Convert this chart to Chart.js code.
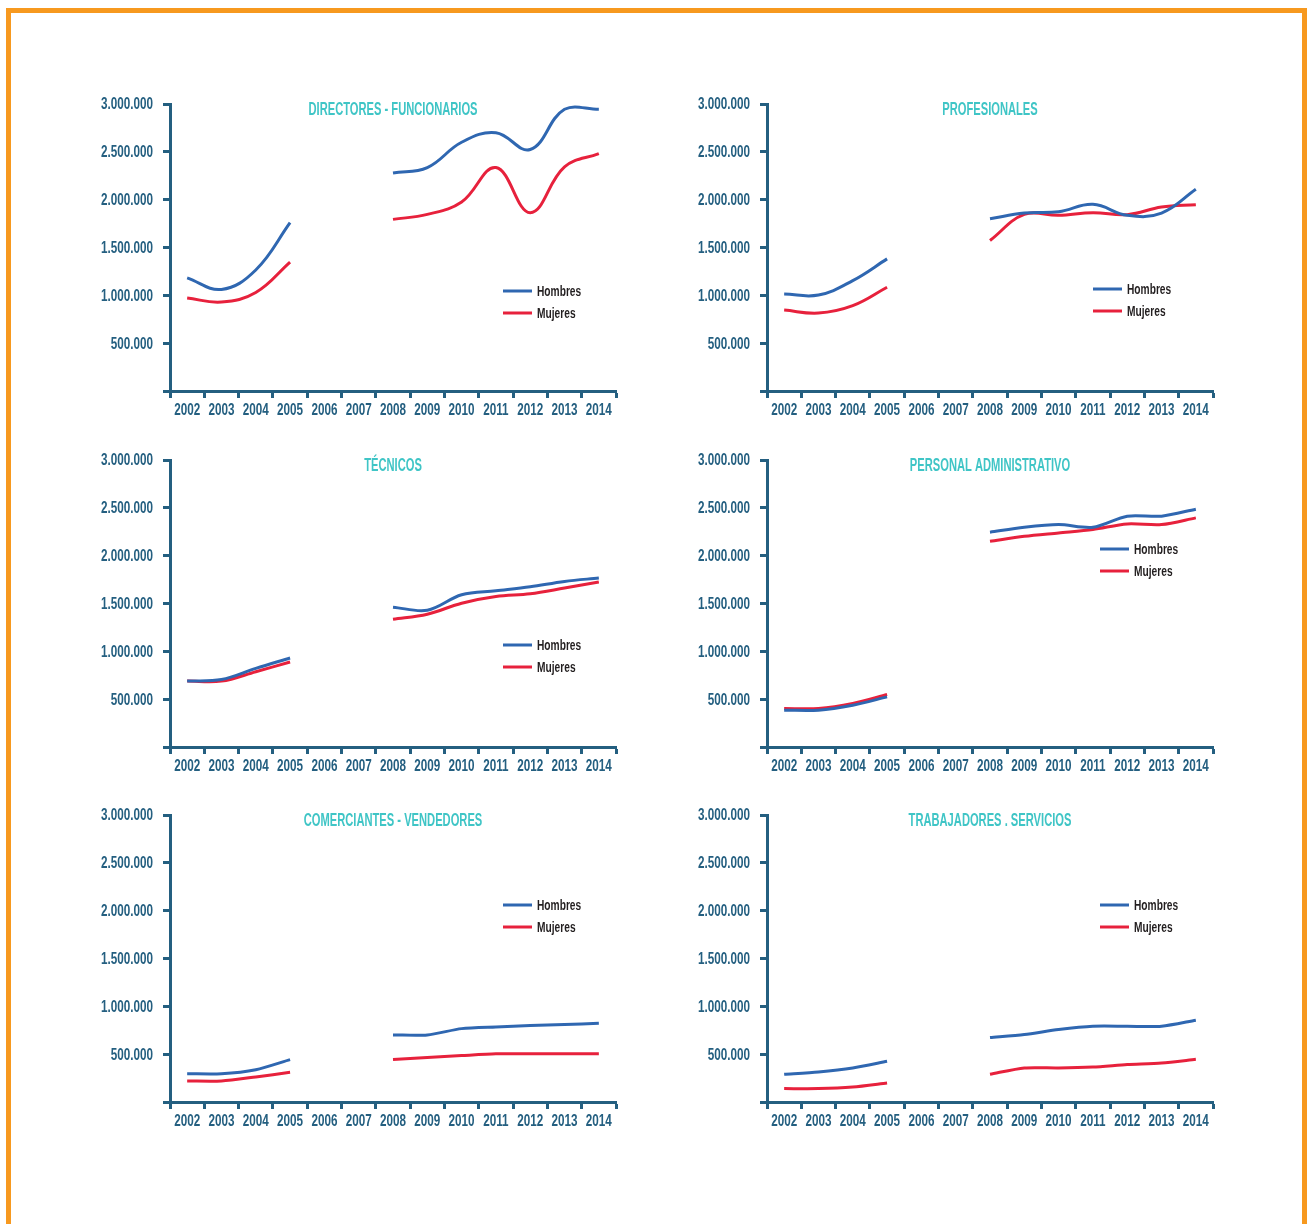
<!DOCTYPE html>
<html>
<head>
<meta charset="utf-8">
<script src="https://cdn.jsdelivr.net/npm/chart.js@4/dist/chart.umd.min.js"></script>
<style>
  html, body { margin: 0; padding: 0; background: #fff; overflow: hidden; width: 1307px; height: 1224px; }
  .frame { position: absolute; left: 6px; top: 8px; width: 1291px; height: 1400px; border: 5px solid #f7991f; }
  .box { position: absolute; width: 550px; height: 350px; }
</style>
</head>
<body>
<div class="frame"></div>
<div class="box" style="left:80px;top:90px"><canvas id="c1" width="550" height="350"></canvas></div>
<div class="box" style="left:677px;top:90px"><canvas id="c2" width="550" height="350"></canvas></div>
<div class="box" style="left:80px;top:446px"><canvas id="c3" width="550" height="350"></canvas></div>
<div class="box" style="left:677px;top:446px"><canvas id="c4" width="550" height="350"></canvas></div>
<div class="box" style="left:80px;top:801px"><canvas id="c5" width="550" height="350"></canvas></div>
<div class="box" style="left:677px;top:801px"><canvas id="c6" width="550" height="350"></canvas></div>
<script>
// years on the x axis (2006 and 2007 have no data)
const years = ['2002', '2003', '2004', '2005', '2006', '2007', '2008', '2009', '2010', '2011', '2012', '2013', '2014'];

const directoresHombres = [1182000, 1062000, 1265000, 1760000, null, null, 2279000, 2335000, 2600000, 2700000, 2524000, 2945000, 2944000];
const directoresMujeres = [972000, 930000, 1030000, 1348000, null, null, 1794000, 1846000, 1975000, 2336000, 1864000, 2343000, 2482000];

const profesionalesHombres = [1014000, 1003000, 1154000, 1381000, null, null, 1801000, 1860000, 1874000, 1951000, 1836000, 1860000, 2108000];
const profesionalesMujeres = [846000, 815000, 892000, 1084000, null, null, 1573000, 1846000, 1836000, 1864000, 1843000, 1923000, 1948000];

const tecnicosHombres = [689000, 705000, 822000, 930000, null, null, 1462000, 1430000, 1591000, 1633000, 1675000, 1731000, 1766000];
const tecnicosMujeres = [689000, 689000, 787000, 888000, null, null, 1336000, 1388000, 1503000, 1573000, 1601000, 1661000, 1724000];

const administrativoHombres = [385000, 385000, 437000, 524000, null, null, 2245000, 2297000, 2325000, 2297000, 2413000, 2413000, 2486000];
const administrativoMujeres = [402000, 402000, 455000, 549000, null, null, 2150000, 2203000, 2238000, 2273000, 2332000, 2325000, 2395000];

const comerciantesHombres = [296000, 296000, 338000, 443000, null, null, 701000, 701000, 767000, 785000, 799000, 809000, 822000];
const comerciantesMujeres = [220000, 220000, 262000, 310000, null, null, 443000, 464000, 485000, 504000, 504000, 504000, 504000];

const serviciosHombres = [290000, 314000, 356000, 426000, null, null, 673000, 705000, 757000, 792000, 792000, 792000, 855000];
const serviciosMujeres = [140000, 140000, 157000, 199000, null, null, 290000, 356000, 356000, 366000, 391000, 408000, 446000];

// no condensed font is installed, so text is squeezed horizontally
const FONT = "'Liberation Sans', 'Arial', sans-serif";
const AXIS = '#245f80';
const BLUE = '#2f67b1';
const RED = '#e7213c';

function squeezed(ctx, text, x, y, align, sx) {
  ctx.save();
  ctx.translate(x, y);
  ctx.scale(sx, 1);
  ctx.textAlign = align;
  ctx.fillText(text, 0, 0);
  ctx.restore();
}

// tick labels, title and legend
const overlay = {
  id: 'overlay',
  afterDraw(chart, args, opts) {
    const { ctx, chartArea } = chart;
    const xs = chart.scales.x;
    const ys = chart.scales.y;
    ctx.save();
    ctx.textBaseline = 'middle';

    ctx.fillStyle = AXIS;
    ctx.font = 'bold 16px ' + FONT;
    xs.ticks.forEach((t, i) => {
      squeezed(ctx, chart.data.labels[i], xs.getPixelForTick(i), chartArea.bottom + 20, 'center', 0.73);
    });
    ys.ticks.forEach((t) => {
      if (t.value === 0) return;
      squeezed(ctx, t.value.toLocaleString('de-DE'), chartArea.left - 17, ys.getPixelForValue(t.value) + 1, 'right', 0.73);
    });

    ctx.fillStyle = '#3fc5c6';
    ctx.font = 'bold 18px ' + FONT;
    squeezed(ctx, opts.title, (chartArea.left + chartArea.right) / 2, chartArea.top + 6, 'center', 0.62);

    ctx.font = 'bold 15px ' + FONT;
    chart.data.datasets.forEach((ds, i) => {
      const x = chartArea.left + opts.legendX;
      const y = chartArea.top + opts.legendY + i * 22;
      ctx.strokeStyle = ds.borderColor;
      ctx.lineWidth = 3;
      ctx.beginPath();
      ctx.moveTo(x, y);
      ctx.lineTo(x + 29, y);
      ctx.stroke();
      ctx.fillStyle = '#231f20';
      squeezed(ctx, ds.label, x + 34, y + 1, 'left', 0.68);
    });
    ctx.restore();
  }
};

function makeChart(id, title, hombres, mujeres, legendX, legendY, tension) {
  const ctx = document.getElementById(id).getContext('2d');
  return new Chart(ctx, {
    type: 'line',
    data: {
      labels: years,
      datasets: [
        { label: 'Hombres', data: hombres, borderColor: BLUE, borderWidth: 3, pointRadius: 0, tension: tension, spanGaps: false },
        { label: 'Mujeres', data: mujeres, borderColor: RED, borderWidth: 3, pointRadius: 0, tension: tension, spanGaps: false }
      ]
    },
    plugins: [overlay],
    options: {
      responsive: false,
      devicePixelRatio: 1,
      animation: false,
      layout: { padding: { top: 14, right: 14, left: 0, bottom: 0 } },
      plugins: {
        legend: { display: false },
        tooltip: { enabled: false },
        overlay: { title: title, legendX: legendX, legendY: legendY }
      },
      scales: {
        x: {
          offset: true,
          grid: { offset: true, drawOnChartArea: false, drawTicks: true, tickLength: 7, tickWidth: 3, tickColor: AXIS },
          border: { display: true, color: AXIS, width: 3 },
          ticks: { display: false, autoSkip: false },
          afterFit: (scale) => { scale.height = 49; }
        },
        y: {
          min: 0,
          max: 3000000,
          grid: { drawOnChartArea: false, drawTicks: true, tickLength: 7, tickWidth: 3, tickColor: AXIS },
          border: { display: true, color: AXIS, width: 3 },
          ticks: { display: false, stepSize: 500000 },
          afterFit: (scale) => { scale.width = 90; }
        }
      }
    }
  });
}

makeChart('c1', 'DIRECTORES - FUNCIONARIOS', directoresHombres, directoresMujeres, 333, 187, 0.4);
makeChart('c2', 'PROFESIONALES', profesionalesHombres, profesionalesMujeres, 326, 185, 0.4);
makeChart('c3', 'TÉCNICOS', tecnicosHombres, tecnicosMujeres, 333, 185, 0.35);
makeChart('c4', 'PERSONAL ADMINISTRATIVO', administrativoHombres, administrativoMujeres, 333, 89, 0.3);
makeChart('c5', 'COMERCIANTES - VENDEDORES', comerciantesHombres, comerciantesMujeres, 333, 90, 0.25);
makeChart('c6', 'TRABAJADORES . SERVICIOS', serviciosHombres, serviciosMujeres, 333, 90, 0.25);
</script>
</body>
</html>
